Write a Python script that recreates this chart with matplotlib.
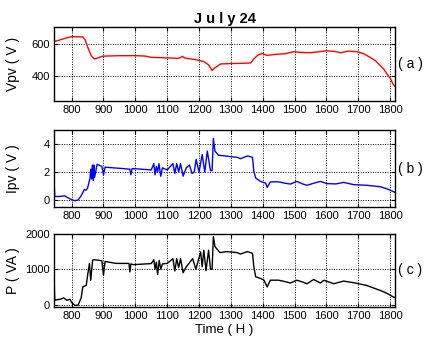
import matplotlib
matplotlib.use("Agg")
import matplotlib.pyplot as plt

plt.rcParams['font.family'] = ['Liberation Sans', 'DejaVu Sans']

# time axis (H) and readings for July 24
t_v = [745, 760, 780, 800, 835, 842, 852, 862, 871, 882, 895, 910, 950, 1000, 1030,
       1050, 1080, 1110, 1132, 1142, 1148, 1155, 1175, 1195, 1215, 1230, 1241, 1250,
       1268, 1300, 1340, 1362, 1372, 1385, 1398, 1413, 1440, 1470, 1497, 1520, 1549,
       1575, 1602, 1625, 1644, 1670, 1696, 1715, 1737, 1755, 1769, 1780, 1790, 1800,
       1810, 1815]
vpv = [612, 620, 632, 642, 640, 625, 570, 525, 506, 512, 522, 524, 526, 526, 524,
       516, 514, 512, 510, 514, 522, 512, 506, 500, 490, 470, 436, 452,
       476, 478, 480, 482, 506, 530, 540, 528, 534, 538, 550, 546, 544,
       550, 556, 552, 544, 554, 550, 540, 516, 494, 466, 444, 416, 390,
       350, 340]

t_i = [745, 747, 750, 760, 778, 785, 790, 800, 810, 820, 830, 840, 845, 850, 855,
       858, 860, 863, 865, 868, 870, 872, 880, 895, 900, 905, 930, 960, 983, 986,
       990, 1020, 1050, 1058, 1062, 1066, 1070, 1074, 1080, 1085, 1100, 1118, 1124,
       1130, 1136, 1142, 1150, 1160, 1170, 1178, 1185, 1191, 1200, 1210, 1218, 1226,
       1236, 1241, 1245, 1250, 1261, 1282, 1300, 1320, 1330, 1352, 1368, 1372, 1378,
       1393, 1409, 1414, 1424, 1450, 1470, 1487, 1507, 1525, 1539, 1560, 1581, 1602,
       1630, 1654, 1685, 1727, 1769, 1790, 1810, 1815]
ipv = [1.3, 0.25, 0.25, 0.25, 0.3, 0.2, 0.14, 0.03, -0.05, 0.0, 0.3, 0.75, 0.7, 0.85, 1.3,
       1.6, 2.2, 1.5, 2.5, 1.4, 2.5, 1.6, 2.55, 2.4, 1.8, 2.35, 2.3, 2.25, 2.2, 1.8,
       2.25, 2.2, 2.15, 2.6, 1.8, 2.4, 2.0, 2.6, 1.7, 2.3, 2.15, 2.6, 1.9,
       2.6, 2.0, 2.6, 1.7, 2.3, 2.5, 1.9, 2.0, 2.9, 2.0, 3.25, 2.0, 3.5,
       2.1, 2.1, 4.4, 3.5, 3.2, 3.15, 3.1, 3.05, 2.95, 3.15, 3.05, 2.05, 1.57,
       1.33, 1.21, 0.9, 1.3, 1.3, 1.2, 1.14, 1.33, 1.15, 1.05, 1.2, 1.33, 1.17,
       1.15, 1.26, 1.1, 1.05, 0.95, 0.8, 0.6, 0.55]

t_p = [745, 747, 750, 765, 775, 785, 795, 800, 810, 820, 830, 835, 846, 851, 856,
       860, 866, 870, 880, 895, 900, 905, 940, 980, 983, 986, 995, 1050, 1058, 1062,
       1066, 1070, 1075, 1080, 1085, 1100, 1118, 1124, 1130, 1136, 1142, 1150, 1160,
       1180, 1190, 1205, 1210, 1215, 1222, 1230, 1236, 1241, 1245, 1250, 1266, 1287,
       1320, 1330, 1352, 1368, 1372, 1378, 1393, 1404, 1414, 1424, 1450, 1470, 1487,
       1507, 1525, 1539, 1560, 1581, 1592, 1623, 1654, 1685, 1727, 1769, 1790, 1810,
       1815]
power = [740, 120, 130, 150, 190, 122, 150, 60, -20, -20, 190, 500, 545, 880, 1165,
         690, 1260, 1270, 1260, 1240, 830, 1220, 1165, 1165, 925, 1150, 1130, 1160, 1270, 1000,
         1200, 850, 1250, 1000, 1150, 1165, 1300, 950, 1300, 1050, 1300, 900, 1070,
         1300, 1000, 1490, 1070, 1540, 960, 1540, 1000, 1000, 1920, 1640, 1470, 1500,
         1470, 1430, 1500, 1450, 1070, 785, 740, 690, 500, 690, 690, 650, 610,
         690, 640, 590, 710, 610, 690, 590, 665, 620, 540, 400, 320, 215,
         200]

xticks = [800, 900, 1000, 1100, 1200, 1300, 1400, 1500, 1600, 1700, 1800]

fig = plt.figure(figsize=(4.26, 3.45), dpi=100)
ax1 = fig.add_axes([0.127, 0.707, 0.800, 0.2145])
ax2 = fig.add_axes([0.127, 0.400, 0.800, 0.223])
ax3 = fig.add_axes([0.127, 0.110, 0.800, 0.212])

ax1.plot(t_v, vpv, color='red', lw=1)
ax2.plot(t_i, ipv, color='blue', lw=1)
ax3.plot(t_p, power, color='black', lw=1)

ax1.set_ylim(250, 700)
ax1.set_yticks([400, 600])
ax2.set_ylim(-0.5, 5)
ax2.set_yticks([0, 2, 4])
ax3.set_ylim(-70, 2000)
ax3.set_yticks([0, 1000, 2000])

ylabels = ['Vpv ( V )', 'Ipv ( V )', 'P ( VA )']
tags = ['( a )', '( b )', '( c )']
for ax, lab, tag in zip([ax1, ax2, ax3], ylabels, tags):
    ax.set_xlim(745, 1815)
    ax.set_xticks(xticks)
    ax.tick_params(direction='in', length=3, labelsize=8, top=True, right=True, pad=3)
    ax.grid(True, color='black', linestyle=(0, (1, 1.5)), linewidth=0.7)
    for s in ax.spines.values():
        s.set_linewidth(1.0)
    ax.set_ylabel(lab, fontsize=10)
    ax.yaxis.set_label_coords(-0.10, 0.5)
    pos = ax.get_position()
    fig.text(0.963, pos.y0 + pos.height / 2, tag, fontsize=10, ha='center', va='center')

ax1.set_title('J u l y 24', fontsize=10.5, fontweight='bold', pad=3)
ax3.set_xlabel('Time ( H )', fontsize=9.5, labelpad=2)

fig.savefig('out.png', dpi=100)
